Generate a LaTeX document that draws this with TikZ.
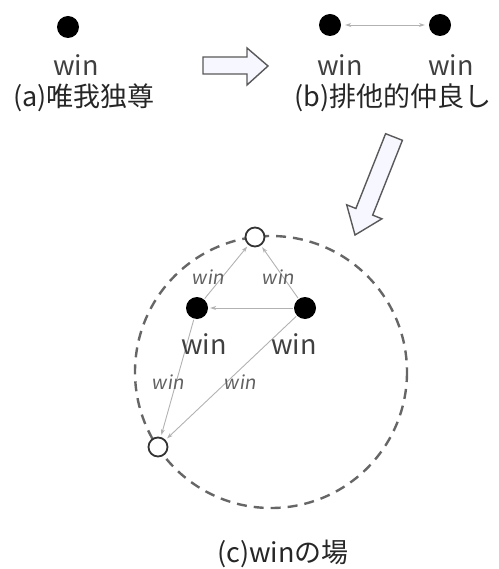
\documentclass[tikz,border=0pt]{standalone}
\usepackage{fontspec}
\setmainfont{Noto Sans CJK JP}
\newfontfamily\slantf[FakeSlant=0.15]{Noto Sans CJK JP}
\usetikzlibrary{arrows.meta}
\begin{document}
\begin{tikzpicture}[x=1pt,y=-1pt,
  dot/.style={circle,fill=black,minimum size=22pt,inner sep=0pt},
  ring/.style={circle,draw=black!80,line width=1.8pt,fill=white,minimum size=19pt,inner sep=0pt},
  winlbl/.style={text=black!75,inner sep=0pt,font=\fontsize{27}{29}\selectfont},
  caption/.style={text=black!85,inner sep=0pt,font=\fontsize{27}{29}\selectfont},
  small/.style={text=black!62,inner sep=0pt,font=\slantf\fontsize{19}{21}\selectfont},
  link/.style={draw=black!30,line width=0.9pt,shorten >=2pt,shorten <=1pt,-{Stealth[length=6pt,width=4pt]}},
  blockarrow/.style={draw=black!65,line width=1.4pt,fill=blue!3,line join=miter}]
\useasboundingbox (0,0) rectangle (498,569);
% (a)
\node[dot] (a1) at (68,27) {};
\node[winlbl] (wa1) at (76,65) {win};
\node[caption] (ca) at (84,98) {(a)唯我独尊};
% block arrow right
\draw[blockarrow] (203,57) -- (247,57) -- (247,48) -- (268,66) -- (247,85) -- (247,74) -- (203,74) -- cycle;
% (b)
\node[dot] (b1) at (330,25) {};
\node[dot] (b2) at (440,25) {};
\draw[draw=black!30,line width=0.9pt,shorten >=4pt,shorten <=4pt,{Stealth[length=6pt,width=4pt]}-{Stealth[length=6pt,width=4pt]}] (b1) -- (b2);
\node[winlbl] (wb1) at (340,65) {win};
\node[winlbl] (wb2) at (451,65) {win};
\node[caption] (cb) at (393,98) {(b)排他的仲良し};
% block arrow down-left
\draw[blockarrow] (385.6,133.7) -- (402.4,140.3) -- (372.7,215.1) -- (381.9,218.8) -- (355,235) -- (346.7,204.8) -- (355.9,208.5) -- cycle;
% (c)
\draw[draw=black!60,line width=2.4pt,dash pattern=on 10pt off 7pt] (271,372) circle[radius=136];
\node[ring] (t) at (255,237) {};
\node[ring] (q) at (158,447) {};
\node[dot] (l) at (197,308) {};
\node[dot] (r) at (305,308) {};
\draw[link] (r) -- (l);
\draw[link] (l) -- (t);
\draw[link] (r) -- (t);
\draw[link] (l) -- (q);
\draw[link] (r) -- (q);
\node[small] (s1) at (208,277) {win};
\node[small] (s2) at (278,277) {win};
\node[small] (s3) at (168,382) {win};
\node[small] (s4) at (240,382) {win};
\node[winlbl] (wl) at (204,344) {win};
\node[winlbl] (wr) at (294,344) {win};
\node[caption] (cc) at (283,554) {(c)winの場};
\end{tikzpicture}
\end{document}
